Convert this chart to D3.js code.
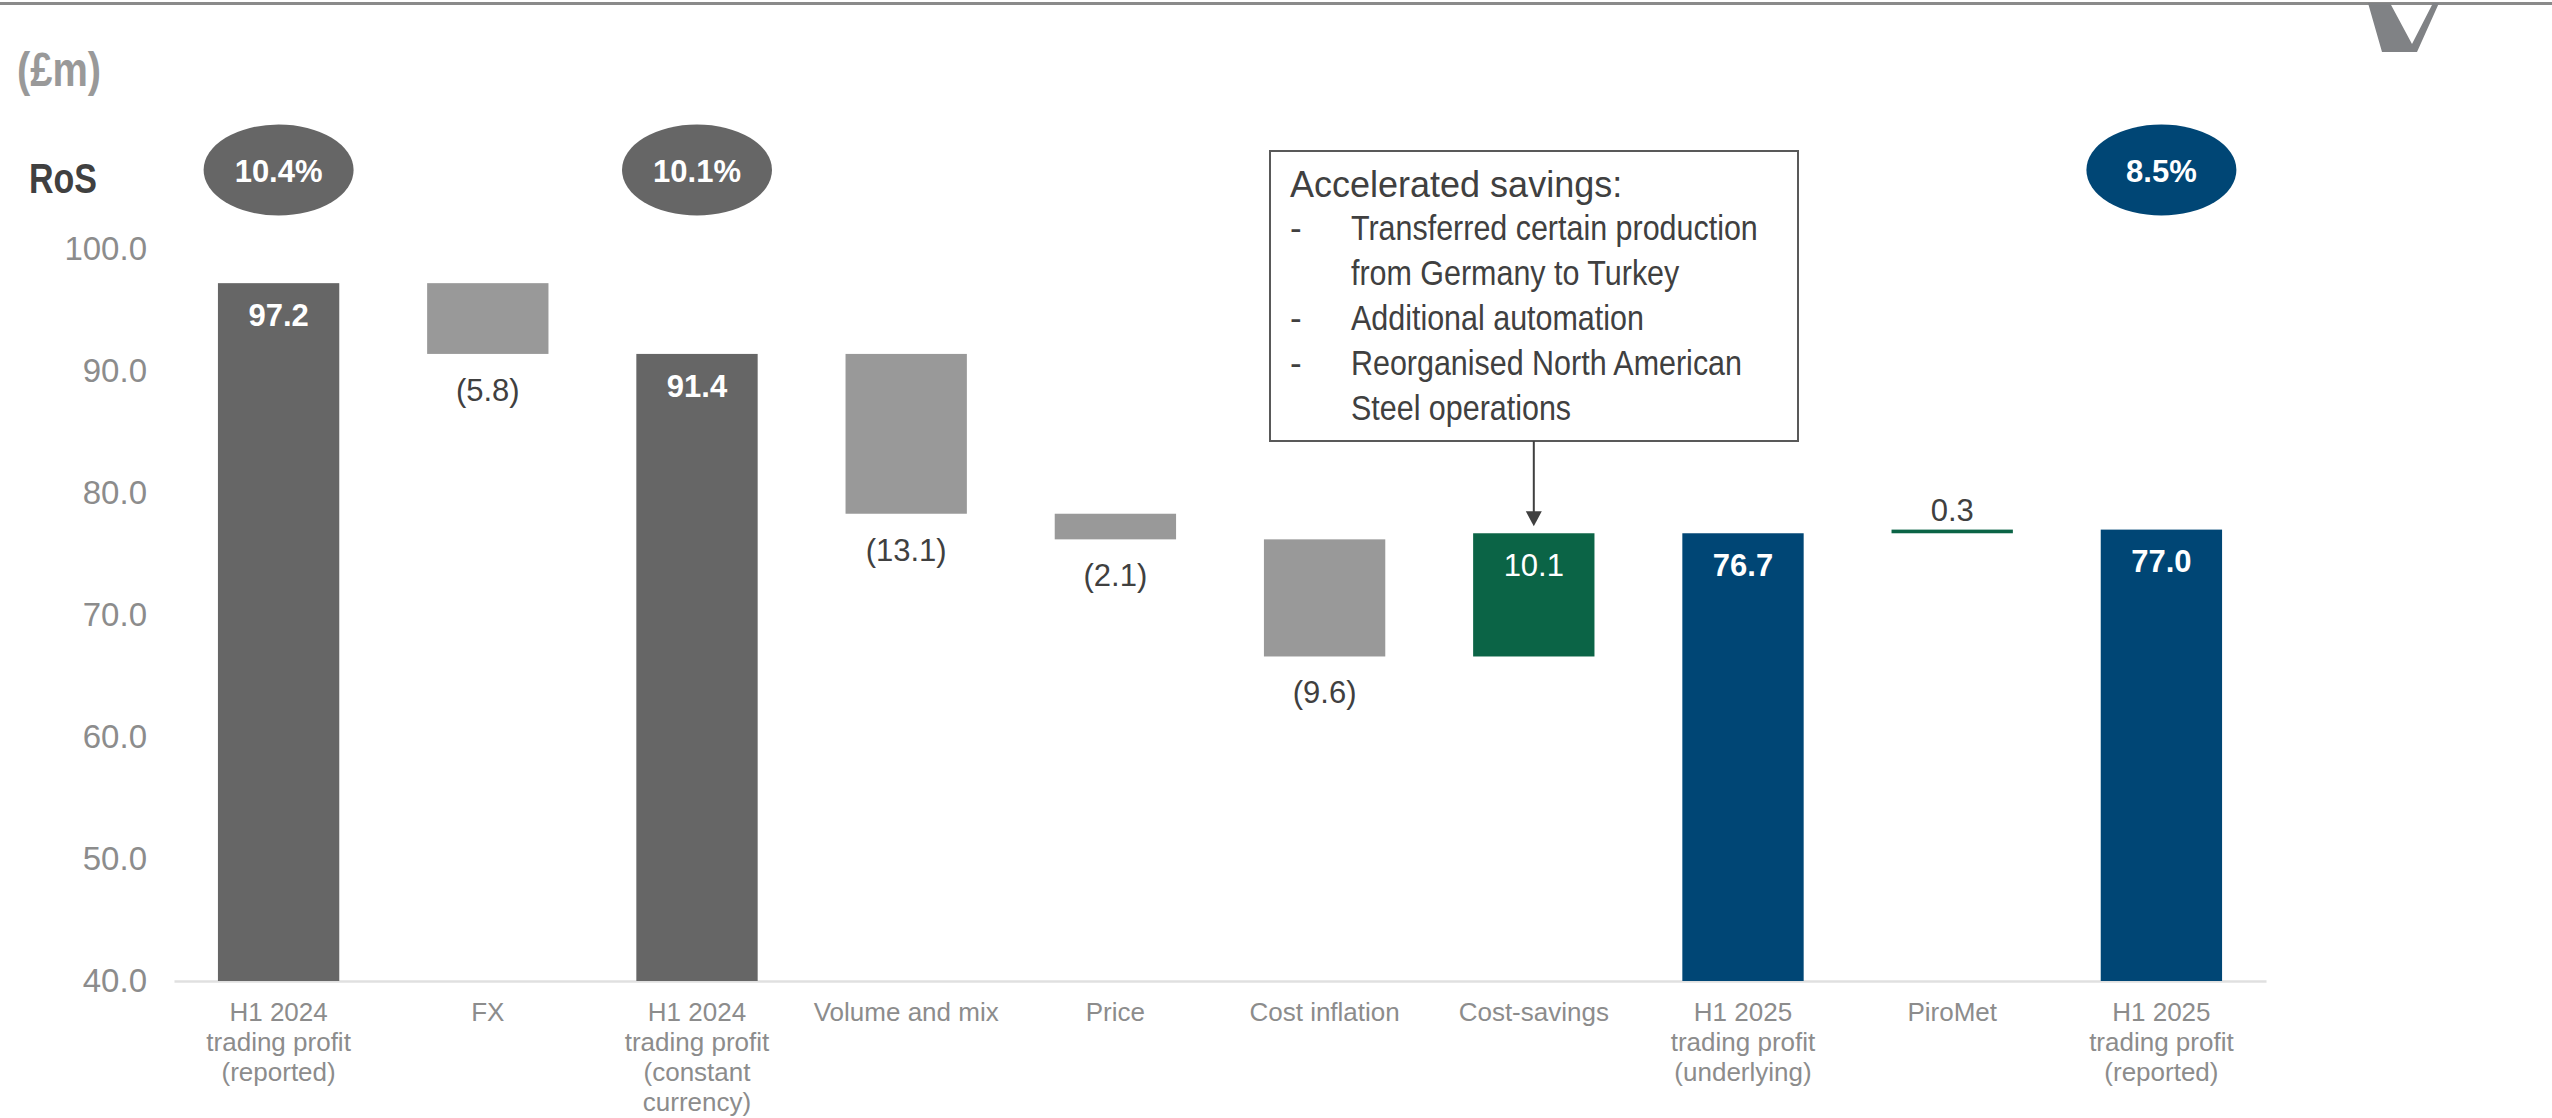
<!DOCTYPE html>
<html>
<head>
<meta charset="utf-8">
<script src="https://cdn.jsdelivr.net/npm/d3@7"></script>
<style>
  html, body { margin: 0; padding: 0; background: #ffffff; }
  svg { display: block; font-family: "Liberation Sans", Arial, sans-serif; }
</style>
</head>
<body>
<svg id="chart" width="2552" height="1118"></svg>
<script>
// Trading profit bridge, H1 2024 -> H1 2025 (£m)
const categories = [
  ["H1 2024", "trading profit", "(reported)"],
  ["FX"],
  ["H1 2024", "trading profit", "(constant", "currency)"],
  ["Volume and mix"],
  ["Price"],
  ["Cost inflation"],
  ["Cost-savings"],
  ["H1 2025", "trading profit", "(underlying)"],
  ["PiroMet"],
  ["H1 2025", "trading profit", "(reported)"]
];
const values = [97.2, -5.8, 91.4, -13.1, -2.1, -9.6, 10.1, 76.7, 0.3, 77.0];
const kinds = ["total", "step", "total", "step", "step", "step", "step", "total", "step", "total"];
const periods = ["2024", "", "2024", "", "", "", "", "2025", "", "2025"];
const rosLabels = ["10.4%", null, "10.1%", null, null, null, null, null, null, "8.5%"];
const yTicks = [40, 50, 60, 70, 80, 90, 100];
const noteTitle = "Accelerated savings:";
const noteLines = [
  ["-", "Transferred certain production"],
  ["", "from Germany to Turkey"],
  ["-", "Additional automation"],
  ["-", "Reorganised North American"],
  ["", "Steel operations"]
];

const C = {
  dark: "#666666", light: "#999999", green: "#0b6446", navy: "#004675",
  tick: "#8c8c8c", text: "#404040", axis: "#e0e0e0"
};

const svg = d3.select("#chart");

// slide header rule and logo mark
svg.append("rect").attr("x", 0).attr("y", 2).attr("width", 2552).attr("height", 3).attr("fill", "#8a8a8a");
svg.append("path")
  .attr("d", "M2368,3 L2390,3 L2412,44 L2433,3 L2439,3 L2417,52 L2382,52 Z")
  .attr("fill", "#808285");

const x = d3.scaleBand()
  .domain(d3.range(categories.length))
  .range([174, 2266])
  .paddingInner(0.42)
  .paddingOuter(0.21);

const y = d3.scaleLinear().domain([40, 100]).range([981, 249]);

// build waterfall segments
let running = 0;
const bars = values.map((v, i) => {
  let lo, hi;
  if (kinds[i] === "total") {
    lo = y.domain()[0]; hi = v; running = v;
  } else {
    const start = running;
    running = +(running + v).toFixed(1);
    lo = Math.min(start, running); hi = Math.max(start, running);
  }
  let fill;
  if (kinds[i] === "total") fill = periods[i] === "2025" ? C.navy : C.dark;
  else fill = v < 0 ? C.light : C.green;
  return { i, v, lo, hi, kind: kinds[i], fill };
});

// y axis
const yAxis = svg.append("g")
  .attr("transform", `translate(${x.range()[0]},0)`)
  .call(d3.axisLeft(y).tickValues(yTicks).tickSize(0).tickPadding(27).tickFormat(d3.format(".1f")));
yAxis.select(".domain").remove();
yAxis.selectAll("text")
  .attr("fill", C.tick).attr("font-size", 33)
  .attr("font-family", "'Liberation Sans', Arial, sans-serif");

// x axis baseline and category labels
const xAxis = svg.append("g")
  .attr("transform", `translate(0,${y(40)})`)
  .call(d3.axisBottom(x).tickSize(0).tickFormat(""));
xAxis.select(".domain").attr("stroke", C.axis).attr("stroke-width", 2.5);
xAxis.selectAll(".tick").each(function (d) {
  const t = d3.select(this).append("text")
    .attr("fill", C.tick).attr("font-size", 26).attr("text-anchor", "middle")
    .attr("font-family", "'Liberation Sans', Arial, sans-serif");
  categories[d].forEach((line, k) => {
    t.append("tspan").attr("x", 0).attr("y", 31 + k * 30).attr("dy", "0.35em").text(line);
  });
});

// bars
svg.append("g").selectAll("rect").data(bars).join("rect")
  .attr("x", d => x(d.i))
  .attr("width", x.bandwidth())
  .attr("y", d => y(d.hi))
  .attr("height", d => y(d.lo) - y(d.hi))
  .attr("fill", d => d.fill);

// value labels
const fmt = v => v < 0 ? `(${Math.abs(v).toFixed(1)})` : v.toFixed(1);
const labels = svg.append("g").attr("text-anchor", "middle");
bars.forEach(d => {
  const cx = x(d.i) + x.bandwidth() / 2;
  const h = y(d.lo) - y(d.hi);
  const t = labels.append("text").attr("x", cx).attr("dy", "0.35em").text(fmt(d.v));
  if (d.kind === "total") {
    t.attr("y", y(d.hi) + 32).attr("fill", "#ffffff").attr("font-weight", "bold").attr("font-size", 31);
  } else if (d.v < 0) {
    t.attr("y", y(d.lo) + 36).attr("fill", C.text).attr("font-size", 31);
  } else if (h > 40) {
    t.attr("y", y(d.hi) + 32).attr("fill", "#ffffff").attr("font-size", 31);
  } else {
    t.attr("y", y(d.hi) - 19).attr("fill", C.text).attr("font-size", 31);
  }
});

// unit and RoS headings
svg.append("text").attr("x", 17).attr("y", 69).attr("dy", "0.35em")
  .attr("fill", "#999999").attr("font-weight", "bold").attr("font-size", 48)
  .attr("textLength", 84).attr("lengthAdjust", "spacingAndGlyphs").text("(£m)");
svg.append("text").attr("x", 29).attr("y", 178).attr("dy", "0.35em")
  .attr("fill", C.text).attr("font-weight", "bold").attr("font-size", 42)
  .attr("textLength", 68).attr("lengthAdjust", "spacingAndGlyphs").text("RoS");

// return-on-sales badges
const ros = svg.append("g");
rosLabels.forEach((lab, i) => {
  if (!lab) return;
  const cx = x(i) + x.bandwidth() / 2;
  ros.append("ellipse").attr("cx", cx).attr("cy", 170).attr("rx", 75).attr("ry", 45.5)
    .attr("fill", periods[i] === "2025" ? C.navy : C.dark);
  ros.append("text").attr("x", cx).attr("y", 171).attr("dy", "0.35em")
    .attr("text-anchor", "middle").attr("fill", "#ffffff")
    .attr("font-weight", "bold").attr("font-size", 31).text(lab);
});

// call-out box for cost savings
const box = { x: 1270, y: 151, w: 528, h: 290 };
const note = svg.append("g");
note.append("rect").attr("x", box.x).attr("y", box.y).attr("width", box.w).attr("height", box.h)
  .attr("fill", "#ffffff").attr("stroke", "#595959").attr("stroke-width", 2);
note.append("text").attr("x", box.x + 20).attr("y", 184).attr("dy", "0.35em")
  .attr("fill", C.text).attr("font-size", 36).text(noteTitle);
noteLines.forEach((ln, k) => {
  const yy = 228 + k * 45;
  if (ln[0]) note.append("text").attr("x", box.x + 20).attr("y", yy).attr("dy", "0.35em")
    .attr("fill", C.text).attr("font-size", 35).text(ln[0]);
  const t = note.append("text").attr("x", box.x + 81).attr("y", yy).attr("dy", "0.35em")
    .attr("fill", C.text).attr("font-size", 35).text(ln[1]);
  // bullet body is set slightly condensed
  const natural = t.node().getComputedTextLength();
  t.attr("textLength", natural * 0.87).attr("lengthAdjust", "spacingAndGlyphs");
});

// arrow from box to the cost-savings bar
const saveIdx = 6;
const ax = x(saveIdx) + x.bandwidth() / 2;
const tipY = y(bars[saveIdx].hi) - 7;
note.append("line").attr("x1", ax).attr("x2", ax).attr("y1", box.y + box.h).attr("y2", tipY - 12)
  .attr("stroke", "#404040").attr("stroke-width", 2);
note.append("path")
  .attr("d", `M${ax - 8},${tipY - 15} L${ax + 8},${tipY - 15} L${ax},${tipY} Z`)
  .attr("fill", "#404040");
</script>
</body>
</html>
